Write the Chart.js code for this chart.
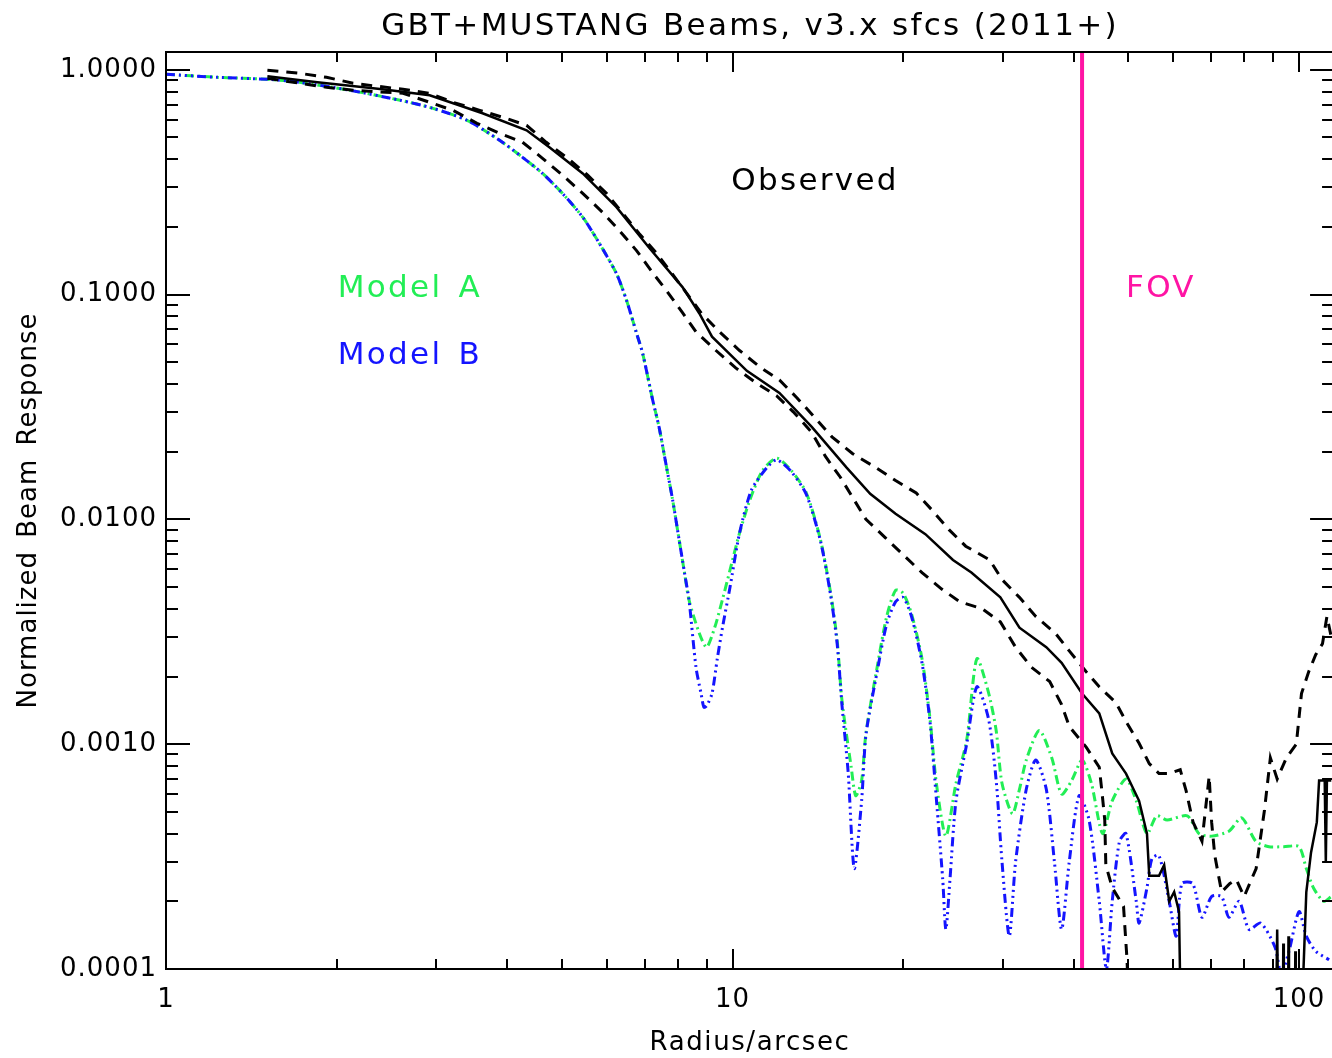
<!DOCTYPE html>
<html>
<head>
<meta charset="utf-8">
<title>GBT+MUSTANG Beams</title>
<script src="https://cdn.jsdelivr.net/npm/chart.js@4.4.1/dist/chart.umd.min.js"></script>
<style>
  html, body { margin: 0; padding: 0; background: #fff; overflow: hidden; }
  #wrap { width: 1332px; height: 1058px; overflow: hidden; }
  canvas { display: block; }
</style>
</head>
<body>
<div id="wrap"><canvas id="beam" width="1340" height="1058"></canvas></div>
<script>
// Axis ticks
const radiusTicks = [1, 10, 100];
const responseTicks = [0.0001, 0.001, 0.01, 0.1, 1];

// Model A beam profile (radius in arcsec, normalized response)
const modelA_r = [1.0, 1.23, 1.51, 1.72, 2.11, 2.59, 2.96, 3.40, 3.88, 4.26, 4.62, 5.01, 5.44, 5.82, 6.24, 6.50, 6.77, 6.94, 7.23, 7.42, 7.65, 7.84, 8.05, 8.23, 8.38, 8.74, 9.0, 9.3, 9.6, 9.89, 10.29, 10.73, 11.3, 11.97, 12.7, 13.5, 14.3, 14.9, 15.3, 15.6, 16.2, 16.5, 16.9, 17.2, 18.0, 18.7, 19.4, 20.0, 20.7, 21.6, 22.3, 22.9, 23.8, 24.8, 25.9, 27.0, 28.3, 29.2, 29.9, 31.2, 32.1, 33.0, 34.8, 36.6, 38.1, 39.7, 41.4, 43.0, 45.0, 46.8, 49.5, 51.6, 53.9, 56.1, 58.5, 63.5, 66.6, 70.1, 75.2, 79.2, 83.9, 88.5, 94.0, 100, 103, 106, 110.5, 114];
const modelA_v = [0.955, 0.926, 0.907, 0.880, 0.811, 0.732, 0.674, 0.596, 0.486, 0.408, 0.346, 0.282, 0.221, 0.169, 0.124, 0.0943, 0.0673, 0.0548, 0.0339, 0.0257, 0.0170, 0.0122, 0.0081, 0.00576, 0.00437, 0.00311, 0.0027, 0.0033, 0.0044, 0.0059, 0.0087, 0.0122, 0.0165, 0.0187, 0.0165, 0.0131, 0.0081, 0.0047, 0.0029, 0.00157, 0.00079, 0.00059, 0.00069, 0.00112, 0.0022, 0.00367, 0.00484, 0.0047, 0.0038, 0.0024, 0.00132, 0.00067, 0.00039, 0.00067, 0.00104, 0.0024, 0.0017, 0.00115, 0.00067, 0.00049, 0.00063, 0.00085, 0.00115, 0.00087, 0.00060, 0.00069, 0.00085, 0.00067, 0.00040, 0.00056, 0.00070, 0.00056, 0.00040, 0.00048, 0.00046, 0.00048, 0.00040, 0.00039, 0.00041, 0.00047, 0.00037, 0.00035, 0.00035, 0.00035, 0.00028, 0.00023, 0.00020, 0.00021];

// Model B beam profile
const modelB_r = [1.0, 1.23, 1.51, 1.72, 2.11, 2.59, 2.96, 3.40, 3.88, 4.26, 4.62, 5.01, 5.44, 5.82, 6.24, 6.50, 6.77, 6.94, 7.23, 7.42, 7.65, 7.84, 8.05, 8.23, 8.38, 8.62, 8.80, 8.9, 9.0, 9.2, 9.4, 9.6, 9.9, 10.29, 10.8, 11.5, 11.97, 12.7, 13.5, 14.3, 14.9, 15.3, 15.6, 16.0, 16.4, 16.9, 17.2, 18.0, 18.7, 19.4, 20.0, 20.7, 21.6, 22.3, 22.9, 23.5, 23.8, 24.2, 24.8, 25.9, 27.0, 28.3, 29.2, 29.9, 30.8, 31.6, 33.0, 34.3, 35.8, 37.0, 38.1, 39.3, 40.9, 42.6, 44.4, 45.7, 46.8, 48.2, 49.5, 51.6, 52.2, 53.9, 55.0, 56.6, 59.0, 60.7, 62.1, 64.9, 67.4, 70.1, 73.0, 75.2, 78.4, 81.6, 85.6, 90.7, 93.0, 96.0, 100, 103, 107, 113];
const modelB_v = [0.955, 0.926, 0.907, 0.880, 0.811, 0.732, 0.674, 0.596, 0.486, 0.408, 0.346, 0.282, 0.221, 0.169, 0.124, 0.0943, 0.0673, 0.0548, 0.0339, 0.0257, 0.0170, 0.0122, 0.0081, 0.00576, 0.00437, 0.0022, 0.00168, 0.00146, 0.00148, 0.00168, 0.0024, 0.0033, 0.0050, 0.0087, 0.0135, 0.0170, 0.0184, 0.0163, 0.0129, 0.0080, 0.0046, 0.0028, 0.00150, 0.00075, 0.00028, 0.00056, 0.0011, 0.0021, 0.0034, 0.0043, 0.0045, 0.0037, 0.0023, 0.00128, 0.00057, 0.00025, 0.00015, 0.00025, 0.00056, 0.00100, 0.0018, 0.0013, 0.00069, 0.0003, 0.00014, 0.0003, 0.00063, 0.00085, 0.00063, 0.0003, 0.00015, 0.0003, 0.00059, 0.00046, 0.0002, 0.0001, 0.0002, 0.00037, 0.0004, 0.0002, 0.00016, 0.00023, 0.00031, 0.00032, 0.0002, 0.00014, 0.00024, 0.00024, 0.00017, 0.00021, 0.00021, 0.00017, 0.0002, 0.00015, 0.00016, 0.000125, 0.000095, 0.00012, 0.00018, 0.00014, 0.00012, 0.00011];

// Observed profile (mean)
const obs_r = [1.51, 1.85, 2.41, 2.92, 3.62, 4.33, 4.75, 5.44, 6.24, 7.12, 8.16, 8.74, 9.2, 10.6, 12.1, 13.8, 15.9, 17.5, 19.4, 21.9, 24.5, 26.4, 29.7, 32.1, 35.8, 38.1, 41.4, 44.4, 46.8, 49.5, 52.2, 53.9, 54.4, 56.6, 57.8, 59.0, 60.2, 61.4, 61.9, 62.5, 91.0, 91.5, 92.0, 93.6, 93.8, 94.0, 95.6, 95.8, 96.0, 98.3, 98.5, 98.7, 101.5, 103, 105, 107.5, 108.5, 111, 111.5, 112, 114];
const obs_v = [0.935, 0.880, 0.819, 0.770, 0.641, 0.538, 0.452, 0.346, 0.245, 0.162, 0.108, 0.0824, 0.065, 0.0458, 0.0365, 0.0258, 0.0170, 0.0130, 0.0106, 0.0086, 0.0066, 0.0058, 0.0045, 0.0033, 0.0027, 0.0023, 0.00168, 0.00137, 0.00091, 0.00074, 0.00056, 0.0004, 0.00026, 0.00026, 0.00029, 0.0002, 0.00022, 0.00018, 0.00005, null, 0.00005, 0.00015, 0.00005, 0.00005, 0.00013, 0.00005, 0.00005, 0.00014, 0.00005, 0.00005, 0.00012, 0.00005, 0.00008, 0.00022, 0.00033, 0.00045, 0.00069, 0.00069, 0.0003, 0.00069, 0.00069];

// Observed profile, upper bound
const obsHi_r = [1.51, 1.72, 1.92, 2.14, 2.36, 2.62, 2.92, 3.21, 3.58, 3.93, 4.33, 4.69, 5.12, 5.55, 5.99, 6.40, 6.84, 7.34, 7.82, 8.31, 8.82, 9.5, 10.29, 11.18, 12.1, 13.0, 13.95, 14.98, 16.3, 17.9, 19.4, 21.1, 22.5, 24.1, 25.8, 28.45, 29.9, 32.1, 34.3, 37.2, 39.3, 42.1, 44.4, 47.5, 49.7, 52.2, 54.4, 56.6, 59.0, 61.7, 63.2, 65.0, 67.4, 69.4, 70.1, 71.0, 73.0, 75.5, 77.5, 80.0, 84.0, 86.9, 89.0, 91.5, 95.0, 98.9, 101, 104, 107, 110, 112, 114];
const obsHi_v = [0.995, 0.965, 0.926, 0.871, 0.845, 0.819, 0.786, 0.717, 0.660, 0.615, 0.566, 0.476, 0.404, 0.340, 0.282, 0.230, 0.187, 0.153, 0.124, 0.101, 0.0824, 0.068, 0.0564, 0.0476, 0.0417, 0.0347, 0.0285, 0.0233, 0.0196, 0.0170, 0.0149, 0.0131, 0.0110, 0.0090, 0.0076, 0.0066, 0.0054, 0.0045, 0.0037, 0.0031, 0.0026, 0.0021, 0.0018, 0.00153, 0.00124, 0.00101, 0.00082, 0.00074, 0.00074, 0.00077, 0.00062, 0.00045, 0.00037, 0.00072, 0.00045, 0.00032, 0.00022, 0.00024, 0.00025, 0.00021, 0.00028, 0.00051, 0.00087, 0.0007, 0.00087, 0.001, 0.00168, 0.0021, 0.0025, 0.0028, 0.0037, 0.0030];

// Observed profile, lower bound
const obsLo_r = [1.51, 1.92, 2.14, 2.62, 2.92, 3.21, 3.54, 3.88, 4.26, 4.62, 5.01, 5.44, 5.90, 6.31, 6.77, 7.23, 7.65, 8.16, 8.62, 9.35, 10.13, 11.0, 11.97, 12.8, 13.8, 14.6, 15.5, 16.3, 17.2, 18.6, 20.2, 21.6, 23.4, 25.2, 27.6, 29.7, 31.6, 33.7, 36.3, 38.1, 39.3, 42.1, 44.4, 44.9, 45.4, 45.6, 46.8, 49.0, 49.7, 50.3];
const obsLo_v = [0.916, 0.836, 0.811, 0.786, 0.717, 0.660, 0.578, 0.522, 0.476, 0.404, 0.340, 0.282, 0.232, 0.193, 0.157, 0.125, 0.104, 0.0831, 0.0683, 0.0564, 0.0472, 0.0405, 0.0354, 0.0301, 0.0244, 0.0190, 0.0154, 0.0125, 0.0100, 0.0083, 0.0068, 0.0058, 0.0049, 0.0043, 0.0040, 0.0035, 0.0027, 0.0022, 0.0019, 0.0015, 0.0012, 0.00097, 0.00079, 0.00061, 0.00046, 0.00029, 0.00023, 0.00019, 0.00011, 0.00005];

// Field of view radius (arcsec)
const fovRadius = 41.4;

const RADIUS_MAX = 115.3;
const RESP_MIN = 0.0001, RESP_MAX = 1.2;

const BLACK = '#000000';
const GREEN = '#22ee55';
const BLUE = '#1414ff';
const MAGENTA = '#ff14a4';
const FONT = '"DejaVu Sans", sans-serif';

const pairs = (r, v) => r.map((x, i) => ({ x: x, y: v[i] }));

// Inward ticks on all four sides, frame, title and annotations
const framePlugin = {
  id: 'frame',
  beforeDraw(chart) {
    chart.ctx.letterSpacing = '1px';
  },
  afterDraw(chart) {
    const { ctx, chartArea: a, scales } = chart;
    const x = scales.x, y = scales.y;
    ctx.save();
    ctx.strokeStyle = BLACK;
    ctx.lineWidth = 2;
    ctx.strokeRect(a.left, a.top, a.right - a.left, a.bottom - a.top);

    ctx.beginPath();
    for (let e = 0; e <= 2; e++) {
      for (let k = 1; k <= 9; k++) {
        const v = k * Math.pow(10, e);
        if (v < 1 || v > RADIUS_MAX) continue;
        const px = Math.round(x.getPixelForValue(v));
        const len = k === 1 ? 20 : 10;
        ctx.moveTo(px, a.bottom); ctx.lineTo(px, a.bottom - len);
        ctx.moveTo(px, a.top); ctx.lineTo(px, a.top + len);
      }
    }
    for (let e = -4; e <= 0; e++) {
      for (let k = 1; k <= 9; k++) {
        const v = k * Math.pow(10, e);
        if (v < RESP_MIN * 0.999 || v > RESP_MAX) continue;
        const py = Math.round(y.getPixelForValue(v));
        const len = k === 1 ? 24 : 12;
        ctx.moveTo(a.left, py); ctx.lineTo(a.left + len, py);
        ctx.moveTo(a.right, py); ctx.lineTo(a.right - len, py);
      }
    }
    ctx.stroke();
    ctx.restore();

    const put = (text, px, py, o) => {
      ctx.save();
      ctx.font = o.font;
      ctx.fillStyle = o.color || BLACK;
      ctx.letterSpacing = (o.ls || 0) + 'px';
      ctx.wordSpacing = (o.ws || 0) + 'px';
      ctx.textAlign = o.align || 'left';
      ctx.textBaseline = 'alphabetic';
      ctx.translate(px, py);
      if (o.rot) ctx.rotate(o.rot);
      ctx.fillText(text, 0, 0);
      ctx.restore();
    };
    const cx = (a.left + a.right) / 2;
    const cy = (a.top + a.bottom) / 2;
    const big = '31px ' + FONT;
    const small = '26px ' + FONT;
    put('GBT+MUSTANG Beams, v3.x sfcs (2011+)', cx, 35, { font: big, ls: 2.3, align: 'center' });
    put('Radius/arcsec', cx, 1050, { font: small, ls: 1.6, align: 'center' });
    put('Normalized Beam Response', 36, cy, { font: small, ls: 1, ws: 4, align: 'center', rot: -Math.PI / 2 });

    put('Observed', x.getPixelForValue(9.95), y.getPixelForValue(0.291), { font: big, ls: 2.3 });
    put('Model A', x.getPixelForValue(2.01), y.getPixelForValue(0.0973), { font: big, ls: 2.3, ws: 4, color: GREEN });
    put('Model B', x.getPixelForValue(2.01), y.getPixelForValue(0.049), { font: big, ls: 2.3, ws: 4, color: BLUE });
    put('FOV', x.getPixelForValue(49.5), y.getPixelForValue(0.0973), { font: big, ls: 2.3, color: MAGENTA });
  }
};

new Chart(document.getElementById('beam'), {
  type: 'line',
  data: {
    datasets: [
      {
        label: 'FOV',
        data: [{ x: fovRadius, y: 1e-6 }, { x: fovRadius, y: 10 }],
        borderColor: MAGENTA, borderWidth: 4, clip: 0
      },
      {
        label: 'Observed',
        data: pairs(obs_r, obs_v),
        borderColor: BLACK, borderWidth: 2.5, tension: 0, clip: 0
      },
      {
        label: 'Observed (upper)',
        data: pairs(obsHi_r, obsHi_v),
        borderColor: BLACK, borderWidth: 3, borderDash: [11, 8], tension: 0, clip: 0
      },
      {
        label: 'Observed (lower)',
        data: pairs(obsLo_r, obsLo_v),
        borderColor: BLACK, borderWidth: 3, borderDash: [11, 8], tension: 0, clip: 0
      },
      {
        label: 'Model B',
        data: pairs(modelB_r, modelB_v),
        borderColor: BLUE, borderWidth: 3, borderDash: [9, 4, 2, 4, 2, 4, 2, 4], tension: 0.25, clip: 0
      },
      {
        label: 'Model A',
        data: pairs(modelA_r, modelA_v),
        borderColor: GREEN, borderWidth: 3, borderDash: [9, 4, 2, 4], tension: 0.25, clip: 0
      }
    ]
  },
  options: {
    responsive: false,
    animation: false,
    events: [],
    layout: { padding: { top: 52, right: 5, left: 0, bottom: 0 } },
    elements: { point: { radius: 0 }, line: { borderCapStyle: 'butt' } },
    plugins: { legend: { display: false }, title: { display: false }, tooltip: { enabled: false } },
    scales: {
      x: {
        type: 'logarithmic',
        min: 1, max: RADIUS_MAX,
        grid: { display: false, drawTicks: false },
        border: { display: false },
        afterBuildTicks: (s) => { s.ticks = radiusTicks.map(v => ({ value: v })); },
        afterFit: (s) => { s.height = 89; },
        ticks: {
          autoSkip: false, maxRotation: 0, padding: 16,
          color: BLACK, font: { family: FONT, size: 26 },
          callback: (v) => String(v)
        }
      },
      y: {
        type: 'logarithmic',
        min: RESP_MIN, max: RESP_MAX,
        grid: { display: false, drawTicks: false },
        border: { display: false },
        afterBuildTicks: (s) => { s.ticks = responseTicks.map(v => ({ value: v })); },
        afterFit: (s) => { s.width = 166; },
        ticks: {
          autoSkip: false, padding: 9,
          color: BLACK, font: { family: FONT, size: 26 },
          callback: (v) => Number(v).toFixed(4)
        }
      }
    }
  },
  plugins: [framePlugin]
});
</script>
</body>
</html>
